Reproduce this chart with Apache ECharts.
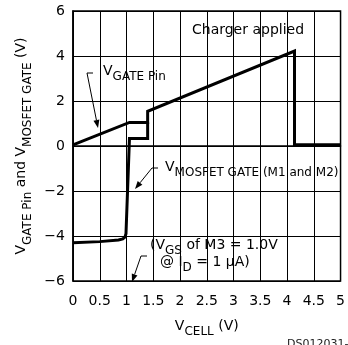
<!DOCTYPE html>
<html>
<head>
<meta charset="utf-8">
<script src="https://cdn.jsdelivr.net/npm/echarts@6/dist/echarts.min.js"></script>
<style>
html, body { margin: 0; padding: 0; background: #fff; }
#chart { width: 348px; height: 345px; }
</style>
</head>
<body>
<div id="chart"></div>
<script>
// V_GATE Pin curve
const gateX = [0, 1.055, 1.395, 1.395, 4.14, 4.14, 5];
const gateY = [0.05, 1.05, 1.05, 1.54, 4.22, 0.06, 0.06];
// V_MOSFET GATE (M1 and M2) curve
const mosX = [0, 0.5, 0.85, 0.93, 0.97, 0.99, 1.055, 1.395, 1.395];
const mosY = [-4.3, -4.25, -4.18, -4.13, -4.05, -3.9, 0.33, 0.33, 1.05];

const FONT = 'DejaVu Sans';
const chart = echarts.init(document.getElementById('chart'));

function pairs(xs, ys) {
  return xs.map((x, i) => [x, ys[i]]);
}

// rich styles: normal text + lowered subscript
const rich = {
  n: { fontFamily: FONT, fontSize: 14, lineHeight: 14, verticalAlign: 'top', color: '#000' },
  s: { fontFamily: FONT, fontSize: 12, lineHeight: 19, verticalAlign: 'bottom', color: '#000' }
};

function label(x, y, text) {
  return {
    type: 'text',
    style: { x: x, y: y, text: text, rich: rich, verticalAlign: 'middle', fill: '#000' }
  };
}

// leader line: short tick, then a line ending in an arrow head
function leader(tx, x0, y0, x1, y1) {
  const dx = x1 - x0, dy = y1 - y0;
  const len = Math.sqrt(dx * dx + dy * dy);
  const ux = dx / len, uy = dy / len;
  const hl = 8, hw = 3;
  const bx = x1 - ux * hl, by = y1 - uy * hl;
  return [
    {
      type: 'polyline',
      shape: { points: [[tx, y0], [x0, y0], [bx, by]] },
      style: { stroke: '#000', lineWidth: 1, fill: null }
    },
    {
      type: 'polygon',
      shape: { points: [[x1, y1], [bx - uy * hw, by + ux * hw], [bx + uy * hw, by - ux * hw]] },
      style: { fill: '#000' }
    }
  ];
}

const graphics = [].concat(
  leader(93, 87, 73, 98, 128),
  leader(158, 152, 168, 135, 189),
  leader(147, 141, 256, 132, 282),
  [
    {
      type: 'text',
      style: { x: 192, y: 30, text: 'Charger applied', font: '14px "DejaVu Sans"', fill: '#000', verticalAlign: 'middle' }
    },
    label(103, 73.5, '{n|V}{s|GATE Pin}'),
    label(165, 169.5, '{n|V}{s|MOSFET GATE (M1 and M2)}'),
    label(150, 247.5, '{n|(V}{s|GS}{n| of M3 = 1.0V}'),
    label(160, 264.5, '{n|@ I}{s|D}{n| = 1 μA)}'),
    {
      type: 'text',
      style: { x: 287, y: 339, text: 'DS012031-5', font: '11px "DejaVu Sans"', fill: '#222', verticalAlign: 'top' }
    }
  ]
);

const option = {
  animation: false,
  backgroundColor: '#fff',
  grid: { left: 73, right: 5, top: 11, bottom: 64, show: true, borderColor: '#000', borderWidth: 1.5 },
  xAxis: {
    type: 'value',
    min: 0,
    max: 5,
    interval: 0.5,
    name: '{n|V}{s|CELL}{n| (V)}',
    nameLocation: 'middle',
    nameGap: 38,
    nameTextStyle: { rich: rich },
    axisLine: { lineStyle: { color: '#000', width: 1.5 } },
    axisTick: { show: false },
    axisLabel: { color: '#000', fontFamily: FONT, fontSize: 14, margin: 13 },
    splitLine: { lineStyle: { color: '#000', width: 1 } }
  },
  yAxis: {
    type: 'value',
    min: -6,
    max: 6,
    interval: 2,
    name: '{n|V}{s|GATE Pin}{n| and V}{s|MOSFET GATE}{n| (V)}',
    nameLocation: 'middle',
    nameRotate: 90,
    nameGap: 36,
    nameTextStyle: { rich: rich },
    axisLine: { show: true, lineStyle: { color: '#000', width: 1.5 } },
    axisTick: { show: false },
    axisLabel: {
      color: '#000', fontFamily: FONT, fontSize: 14, margin: 8,
      formatter: v => (v < 0 ? '\u2212' + (-v) : String(v))
    },
    splitLine: { lineStyle: { color: '#000', width: 1 } }
  },
  series: [
    {
      type: 'line',
      data: pairs(gateX, gateY),
      showSymbol: false,
      lineStyle: { color: '#000', width: 3, join: 'miter' }
    },
    {
      type: 'line',
      data: pairs(mosX, mosY),
      showSymbol: false,
      lineStyle: { color: '#000', width: 3, join: 'miter' }
    }
  ],
  graphic: graphics
};

chart.setOption(option);
</script>
</body>
</html>
